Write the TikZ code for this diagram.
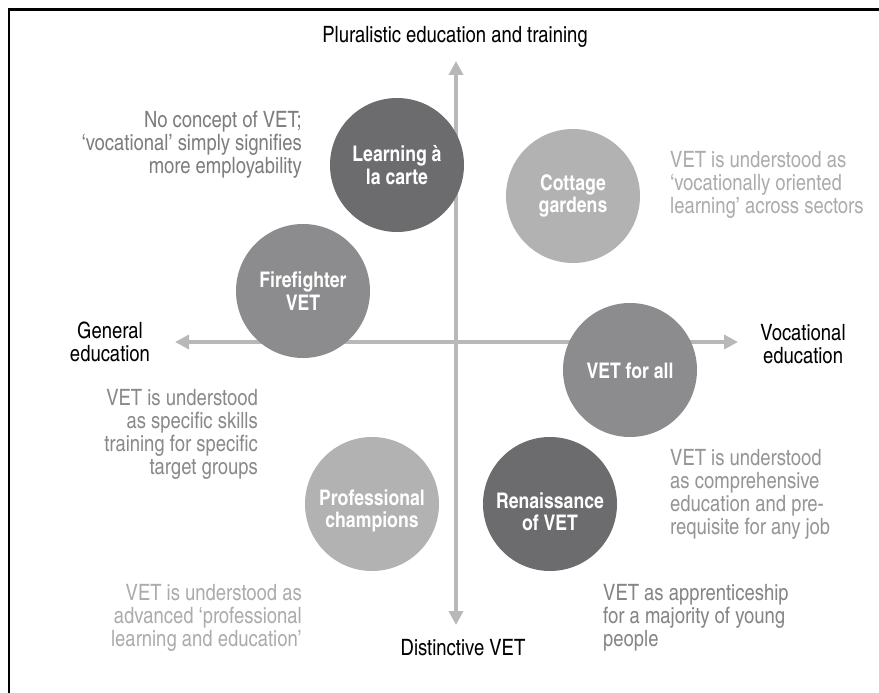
\documentclass[tikz,border=0pt]{standalone}
\usepackage{fontspec}
\setmainfont{texgyreheroscn}[Extension=.otf, UprightFont=*-regular, BoldFont=*-bold]
\usetikzlibrary{arrows.meta}
\definecolor{axisgray}{RGB}{184,184,184}
\definecolor{cdark}{RGB}{108,108,110}
\definecolor{cmid}{RGB}{140,140,142}
\definecolor{clight}{RGB}{178,178,178}
\definecolor{tdark}{RGB}{125,125,125}
\definecolor{tmid}{RGB}{138,138,138}
\definecolor{tmid2}{RGB}{149,149,149}
\definecolor{tlight}{RGB}{172,172,172}
\definecolor{tapp}{RGB}{133,133,133}
\begin{document}
\begin{tikzpicture}[x=1pt,y=-1pt,
  txt/.style={inner sep=0pt, font=\fontsize{22.5}{23.3}\selectfont, execute at begin node=\strut},
  blob/.style={circle, minimum size=134pt, inner sep=0pt, text=white, align=center,
     font=\fontsize{21.5}{22.5}\selectfont\bfseries},
  blobtext/.style={inner sep=0pt, text=white, align=center,
     font=\fontsize{21.5}{22.5}\selectfont\bfseries},
  axis/.style={draw=axisgray, line width=4pt, {Triangle[width=14pt,length=14pt]}-{Triangle[width=14pt,length=14pt]}}
]
\useasboundingbox (0,0) rectangle (879,693);
\draw[line width=2.5pt] (9,693) -- (9,9.3) -- (879,9.3);
% axes
\coordinate (top) at (456,61);
\coordinate (bottom) at (456,625);
\coordinate (left) at (175,342);
\coordinate (right) at (738,342);
\draw[axis] (top) -- (bottom);
\draw[axis] (left) -- (right);
% circles
\node[blob, fill=cdark] (carte) at (397,165) {Learning à\\la carte};
\node[blob, fill=clight] (cottage) at (573,196) {Cottage\\gardens};
\node[blob, fill=cmid] (fire) at (303,291) {Firefighter\\VET};
\node[blob, fill=cmid] (forall) at (630,370) {};
\node[blobtext] (forallt) at (630,371) {VET for all};
\node[blob, fill=cdark] (renais) at (550,504) {};
\node[blobtext] (renaist) at (550,512) {Renaissance\\of VET};
\node[blob, fill=clight] (prof) at (372,504) {};
\node[blobtext] (proft) at (372,511) {Professional\\champions};
% axis labels
\node[txt, anchor=north, align=center] (lplural) at (455,25.7) {Pluralistic education and training};
\node[txt, anchor=north, align=center] (lgen) at (110,321.7) {General\\education};
\node[txt, anchor=north, align=center] (lvoc) at (803,323.7) {Vocational\\education};
\node[txt, anchor=north, align=center] (ldist) at (463,638.7) {Distinctive VET};
% descriptions
\node[txt, anchor=north east, align=right, text=tdark] (dcarte) at (302,110.7)
  {No concept of VET;\\‘vocational’ simply signifies\\more employability};
\node[txt, anchor=north west, align=left, text=tlight] (dcottage) at (670,150.7)
  {VET is understood as\\‘vocationally oriented\\learning’ across sectors};
\node[txt, anchor=north east, align=right, text=tmid] (dfire) at (258,388.7)
  {VET is understood\\as specific skills\\training for specific\\target groups};
\node[txt, anchor=north west, align=left, text=tmid2] (dforall) at (670,448.7)
  {VET is understood\\as comprehensive\\education and pre-\\requisite for any job};
\node[txt, anchor=north west, align=left, text=tapp] (drenais) at (603,583.7)
  {VET as apprenticeship\\for a majority of young\\people};
\node[txt, anchor=north east, align=right, text=tlight] (dprof) at (302,583.7)
  {VET is understood as\\advanced ‘professional\\learning and education’};
\end{tikzpicture}
\end{document}
